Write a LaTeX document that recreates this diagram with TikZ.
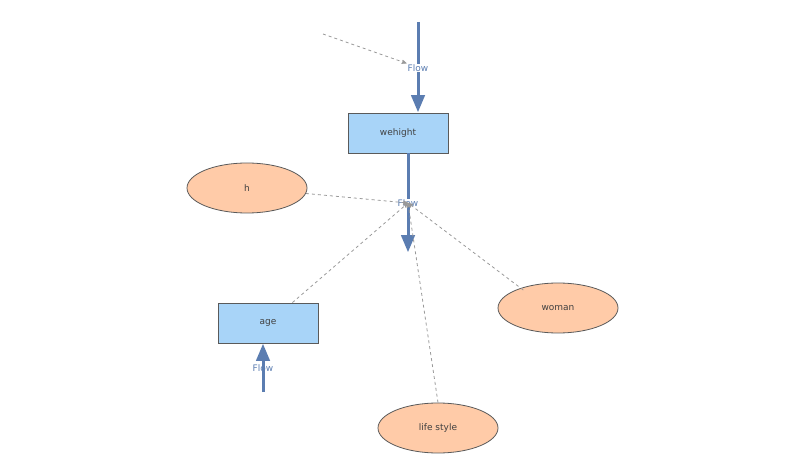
\documentclass[tikz,border=0pt]{standalone}
\usepackage{fontspec}
\setmainfont{DejaVu Sans}
\usetikzlibrary{arrows,shapes.geometric,positioning}
\definecolor{stockblue}{HTML}{A8D4F8}
\definecolor{auxpeach}{HTML}{FFCBA8}
\definecolor{flowblue}{HTML}{5B7DB1}
\definecolor{edgegray}{HTML}{5A5A5A}
\begin{document}
\begin{tikzpicture}[x=1pt,y=-1pt,
	  every node/.style={align=center,font=\fontsize{9}{10}\selectfont,text=black!75},
	  stock/.style={thick,draw=edgegray,fill=stockblue,minimum width=100pt,minimum height=40pt},
	  aux/.style={thick,ellipse,draw=edgegray,fill=auxpeach,minimum width=120pt,minimum height=50pt},
	  flowlabel/.style={fill=white,inner sep=1pt,text=flowblue},
	  flow/.style={-triangle 45,draw=flowblue,line width=3pt},
	  link/.style={->,>=stealth',dashed,draw=black!40,thick}]

	  \useasboundingbox (0,0) rectangle (800,470);

	  % stocks and auxiliaries
	  \node[stock] (wehight) at (398,133) {wehight};
	  \node[stock] (age) at (268,323) {age};
	  \node[aux] (h) at (247,188) {h};
	  \node[aux] (woman) at (558,308) {woman};
	  \node[aux] (lifestyle) at (438,428) {life style};

	  % flows
	  \coordinate (in1) at (418,22);
	  \coordinate (out2) at (408,252);
	  \coordinate (in3) at (263,392);
	  \draw[flow] (in1) -- (418,112);
	  \draw[flow] (408,153) -- (out2);
	  \draw[flow] (in3) -- (263,344);
	  \node[flowlabel] (flow1) at (418,68) {Flow};
	  \node[flowlabel] (flow2) at (408,203) {Flow};
	  \node[flowlabel,fill=none] (flow3) at (263,368) {Flow};

	  % links
	  \coordinate (src) at (323,34);
	  \draw[link] (src) -- (flow1.north west);
	  \draw[link] (h) -- (flow2.center);
	  \draw[link] (age.north east) ++(-26,0) -- (flow2.center);
	  \draw[link] (woman.north west) ++(8,0) -- (flow2.center);
	  \draw[link] (lifestyle.north) -- (flow2.center);
\end{tikzpicture}
\end{document}
